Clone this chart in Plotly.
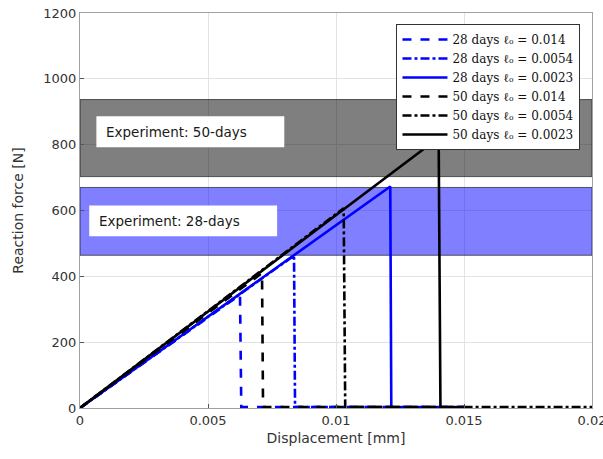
import plotly.graph_objects as go

# ---- data ----
series_names = [
    "28 days ℓₒ = 0.014",
    "28 days ℓₒ = 0.0054",
    "28 days ℓₒ = 0.0023",
    "50 days ℓₒ = 0.014",
    "50 days ℓₒ = 0.0054",
    "50 days ℓₒ = 0.0023",
]
disp_28_l014 = [0, 0.00625, 0.00630, 0.0150]
force_28_l014 = [0, 344, 3, 3]
disp_28_l0054 = [0, 0.00836, 0.00840, 0.0150]
force_28_l0054 = [0, 463, 3, 3]
disp_28_l0023 = [0, 0.01212, 0.01216, 0.0150]
force_28_l0023 = [0, 673, 2, 2]
disp_50_l014 = [0, 0.00711, 0.00715, 0.0150]
force_50_l014 = [0, 410, 3, 3]
disp_50_l0054 = [0, 0.01030, 0.01036, 0.0200]
force_50_l0054 = [0, 607, 3, 3]
disp_50_l0023 = [0, 0.01401, 0.01408, 0.0150]
force_50_l0023 = [0, 821, 2, 2]

exp50_range = [703, 937]
exp28_range = [464, 670]
band_labels = ["Experiment: 50-days", "Experiment: 28-days"]

x_ticks = [0, 0.005, 0.01, 0.015, 0.02]
x_tick_text = ["0", "0.005", "0.01", "0.015", "0.02"]
y_ticks = [0, 200, 400, 600, 800, 1000, 1200]

xs = [disp_28_l014, disp_28_l0054, disp_28_l0023, disp_50_l014, disp_50_l0054, disp_50_l0023]
ys = [force_28_l014, force_28_l0054, force_28_l0023, force_50_l014, force_50_l0054, force_50_l0023]
colors = ["#0000ff"] * 3 + ["#000000"] * 3
dashes = ["dash", "dashdot", "solid"] * 2

fig = go.Figure()
for name, x, y, c, d in zip(series_names, xs, ys, colors, dashes):
    fig.add_trace(go.Scatter(x=x, y=y, mode="lines", name=name,
                             line=dict(color=c, width=2.6, dash=d)))

# experiment bands
fig.add_shape(type="rect", xref="x", yref="y", x0=0, x1=0.02,
              y0=exp50_range[0], y1=exp50_range[1],
              fillcolor="rgba(0,0,0,0.5)", line=dict(color="rgba(0,0,0,0.6)", width=1),
              layer="between")
fig.add_shape(type="rect", xref="x", yref="y", x0=0, x1=0.02,
              y0=exp28_range[0], y1=exp28_range[1],
              fillcolor="rgba(0,0,255,0.5)", line=dict(color="rgba(0,0,0,0.6)", width=1),
              layer="between")

# label boxes
fig.add_shape(type="rect", xref="x", yref="y", x0=0.00064, x1=0.00798,
              y0=792, y1=886, fillcolor="white", line=dict(width=0), layer="above")
fig.add_shape(type="rect", xref="x", yref="y", x0=0.00036, x1=0.00770,
              y0=522, y1=615, fillcolor="white", line=dict(width=0), layer="above")
fig.add_annotation(x=0.00094, y=839, xref="x", yref="y", text=band_labels[0],
                   showarrow=False, xanchor="left", yanchor="middle",
                   font=dict(family="DejaVu Sans", size=13.5, color="#1a1a1a"))
fig.add_annotation(x=0.00066, y=568, xref="x", yref="y", text=band_labels[1],
                   showarrow=False, xanchor="left", yanchor="middle",
                   font=dict(family="DejaVu Sans", size=13.5, color="#1a1a1a"))

axis_common = dict(showline=True, linecolor="#a0a0a0", linewidth=1, mirror=True,
                   showgrid=True, gridcolor="#e3e3e3", gridwidth=1,
                   ticks="inside", ticklen=4, tickcolor="#555555",
                   tickfont=dict(family="DejaVu Sans", size=13, color="#333333"),
                   zeroline=False, automargin=False, ticklabeloverflow="allow")

fig.update_xaxes(range=[0, 0.02], tickvals=x_ticks, ticktext=x_tick_text,
                 title=dict(text="Displacement [mm]", standoff=6,
                            font=dict(family="DejaVu Sans", size=14, color="#333333")),
                 **axis_common)
fig.update_yaxes(range=[0, 1200], tickvals=y_ticks,
                 title=dict(text="Reaction force [N]", standoff=16,
                            font=dict(family="DejaVu Sans", size=14, color="#333333")),
                 **axis_common)

fig.update_layout(
    width=603, height=459,
    margin=dict(l=80, r=11, t=13, b=51, autoexpand=False),
    paper_bgcolor="white", plot_bgcolor="white",
    showlegend=True,
    legend=dict(x=0.9775, y=0.972, xanchor="right", yanchor="top",
                bgcolor="white", bordercolor="#333333", borderwidth=1,
                font=dict(family="DejaVu Serif", size=12, color="#111111"),
                tracegroupgap=0, itemwidth=45),
)

fig.write_html("out.html", config={"displayModeBar": False},
               post_script="document.body.style.margin='0';document.body.style.overflow='hidden';")
